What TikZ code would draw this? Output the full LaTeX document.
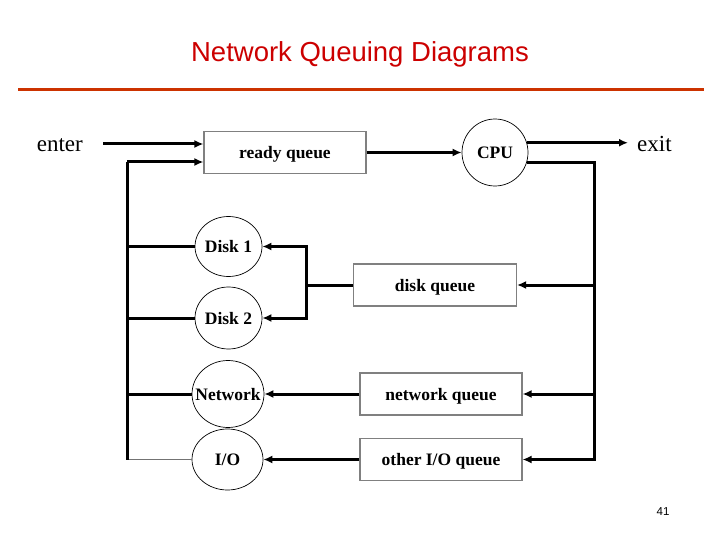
\documentclass[tikz,border=0pt]{standalone}
\usepackage{fontspec}
\setmainfont{Liberation Serif}
\newfontfamily\headfont{Liberation Sans}
\usepackage{xcolor}
\usepackage{tikz}
\usetikzlibrary{arrows.meta,positioning,calc,shapes.geometric}
\definecolor{titlered}{RGB}{204,0,0}
\definecolor{rulered}{RGB}{204,51,0}

\begin{document}
\begin{tikzpicture}[
  x=1pt, y=-1pt,
  font=\fontsize{17.5}{20}\selectfont\bfseries,
  link/.style={line width=3pt},
  thinlink/.style={line width=1.2pt, black!55},
  flow/.style={link, -{Latex[length=9pt,width=8pt]}},
  qbox/.style={draw=black!50, line width=1.1pt, minimum width=162pt, minimum height=42pt, inner sep=0pt, text depth=0pt},
  station/.style={draw, ellipse, line width=0.7pt, inner sep=0pt, text depth=0pt},
  word/.style={font=\fontsize{23}{26}\selectfont, inner sep=0pt},
]
\useasboundingbox (0,0) rectangle (720,540);
% title and rule
\node[anchor=base, text=titlered, font=\headfont\fontsize{27.5}{30}\selectfont] (title) at (360,62) {Network Queuing Diagrams};
\draw[rulered, line width=3.5pt] (18,89.5) -- (704,89.5);
% queues and service centres
\node[qbox] (ready) at (285,152.5) {ready queue};
\node[station, minimum width=66pt, minimum height=67pt] (cpu) at (495,152.5) {\makebox[0pt]{CPU}};
\node[qbox, minimum width=163pt] (dq) at (435,285) {disk queue};
\node[qbox] (nq) at (441,394) {network queue};
\node[qbox] (oq) at (441,459.5) {other I/O queue};
\node[station, minimum width=67pt, minimum height=60pt] (d1) at (228.5,246.5) {\makebox[0pt]{Disk 1}};
\node[station, minimum width=67pt, minimum height=62pt] (d2) at (228.5,318) {\makebox[0pt]{Disk 2}};
\node[station, minimum width=72pt, minimum height=67pt] (net) at (228,394) {\makebox[0pt]{Network}};
\node[station, minimum width=71pt, minimum height=61pt] (io) at (227.5,459.5) {\makebox[0pt]{I/O}};
% free ends and buses
\coordinate (in) at (103,144);
\coordinate (out) at (628,143);
\coordinate (lbus) at (127,162);
\coordinate (rbus) at (594,0);
\coordinate (split) at (306,0);
\node[word, anchor=base east] (enter) at (83,152) {\mdseries enter};
\node[word, anchor=base west] (exit) at (637,152) {\mdseries exit};
% main flow
\draw[flow] (in) -- (in -| ready.west);
\draw[flow] (ready) -- (cpu);
\draw[flow] (cpu.17) -- (cpu.17 -| out);
% feedback from cpu
\draw[link] (cpu.-17) -| (oq.east -| rbus) -- ++(-1.5,0);
\draw[flow] (dq.east -| rbus) -- (dq.east);
\draw[flow] (nq.east -| rbus) -- (nq.east);
\draw[flow] (oq.east -| rbus) -- (oq.east);
% device queues to devices
\draw[link] (dq.west) -- (dq.west -| split);
\draw[flow] (dq.west -| split) |- (d1.east);
\draw[flow] (dq.west -| split) |- (d2.east);
\draw[flow] (nq) -- (net);
\draw[flow] (oq) -- (io);
% return to ready queue
\draw[thinlink] (io.west) -- (io.west -| lbus);
\draw[link] (io.west -| lbus) -- (lbus);
\draw[flow] (lbus) -- (lbus -| ready.west);
\draw[link] (d1.west -| lbus) -- (d1.west);
\draw[link] (d2.west -| lbus) -- (d2.west);
\draw[link] (net.west -| lbus) -- (net.west);
% page number
\node[anchor=base, font=\headfont\fontsize{11.5}{13}\selectfont] (page) at (663,515) {41};
\end{tikzpicture}
\end{document}
